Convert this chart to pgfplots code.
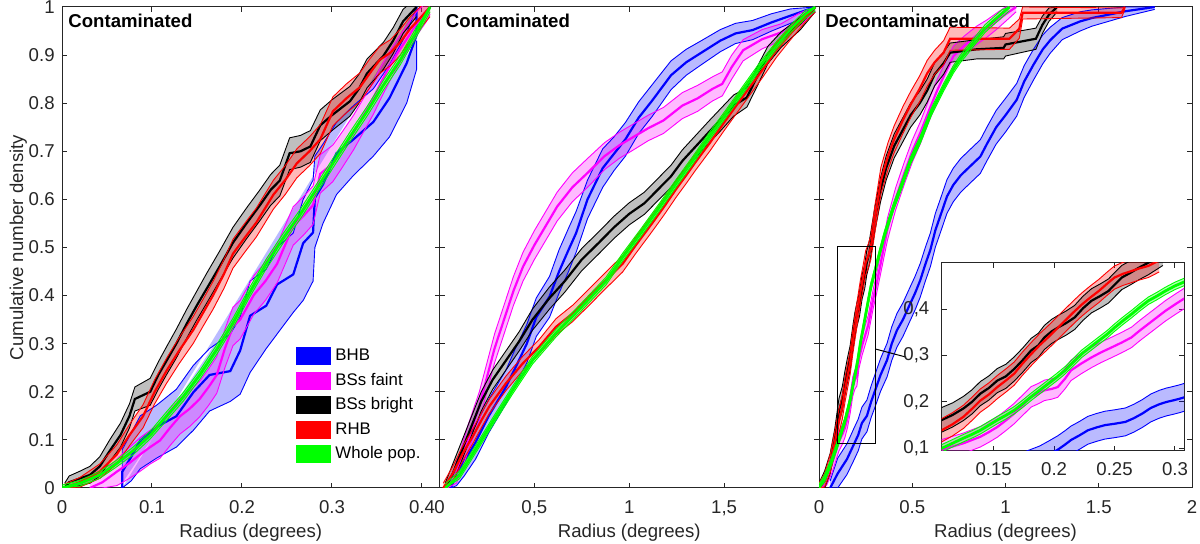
\documentclass[border=0pt]{standalone}
\usepackage{fontspec}
\setmainfont{Liberation Sans}
\usepackage{pgfplots}
\pgfplotsset{compat=1.18}
\usepackage{pgfplotstable}
\usepgfplotslibrary{fillbetween}
\newcommand{\F}{\fontsize{9.3}{11}\selectfont}
\newcommand{\FL}{\fontsize{8.4}{10}\selectfont}
\definecolor{mblue}{RGB}{0,0,255}
\definecolor{mmag}{RGB}{255,0,255}
\definecolor{mred}{RGB}{255,0,0}
\definecolor{mgreen}{RGB}{0,255,0}
\definecolor{mblack}{RGB}{0,0,0}

% ---------------- Panel 1 (contaminated, 0-0.42) ----------------
\pgfplotstableread{
x y lo hi
0.067 0.000 0.000 0.010
0.067 0.034 0.000 0.080
0.077 0.065 0.015 0.115
0.087 0.099 0.040 0.150
0.105 0.127 0.062 0.172
0.127 0.149 0.085 0.205
0.146 0.199 0.120 0.255
0.164 0.235 0.160 0.290
0.187 0.243 0.180 0.320
0.198 0.286 0.195 0.355
0.209 0.358 0.240 0.430
0.227 0.379 0.290 0.455
0.239 0.423 0.320 0.500
0.257 0.444 0.365 0.530
0.268 0.509 0.390 0.600
0.279 0.531 0.430 0.640
0.281 0.603 0.500 0.690
0.290 0.631 0.550 0.715
0.305 0.696 0.610 0.760
0.324 0.725 0.650 0.795
0.346 0.761 0.690 0.830
0.364 0.811 0.730 0.880
0.383 0.883 0.800 0.945
0.394 0.941 0.870 1.000
0.394 1.000 0.930 1.000
}\pAbhb
\pgfplotstableread{
x y lo hi
0.031 0.000 0.000 0.010
0.045 0.012 0.000 0.030
0.061 0.034 0.005 0.060
0.075 0.052 0.020 0.085
0.087 0.070 0.035 0.105
0.098 0.085 0.050 0.120
0.109 0.099 0.062 0.135
0.120 0.125 0.088 0.162
0.131 0.149 0.112 0.186
0.142 0.165 0.128 0.202
0.153 0.185 0.148 0.222
0.163 0.210 0.172 0.248
0.172 0.235 0.197 0.273
0.181 0.290 0.250 0.330
0.190 0.336 0.296 0.376
0.198 0.350 0.310 0.390
0.213 0.401 0.361 0.441
0.226 0.430 0.390 0.470
0.239 0.466 0.426 0.506
0.257 0.545 0.505 0.585
0.268 0.565 0.525 0.605
0.279 0.588 0.548 0.628
0.287 0.653 0.613 0.693
0.301 0.675 0.637 0.713
0.312 0.705 0.668 0.742
0.324 0.739 0.703 0.775
0.335 0.775 0.740 0.810
0.346 0.811 0.777 0.845
0.355 0.845 0.812 0.878
0.364 0.876 0.845 0.907
0.373 0.905 0.876 0.934
0.383 0.933 0.906 0.960
0.394 0.965 0.940 0.990
0.405 0.991 0.970 1.010
0.409 1.000 0.985 1.015
}\pAfaint
\pgfplotstableread{
x y lo hi
0.003 0.000 0.000 0.010
0.008 0.012 0.000 0.025
0.020 0.020 0.005 0.035
0.031 0.027 0.010 0.045
0.042 0.045 0.025 0.065
0.053 0.077 0.055 0.100
0.065 0.110 0.085 0.135
0.075 0.150 0.125 0.175
0.081 0.185 0.160 0.210
0.098 0.200 0.172 0.228
0.107 0.235 0.205 0.262
0.116 0.264 0.235 0.293
0.127 0.300 0.270 0.330
0.139 0.343 0.313 0.373
0.150 0.380 0.350 0.410
0.161 0.415 0.385 0.447
0.175 0.460 0.430 0.492
0.190 0.510 0.478 0.542
0.205 0.550 0.518 0.582
0.220 0.588 0.556 0.620
0.232 0.620 0.588 0.652
0.242 0.639 0.607 0.671
0.253 0.696 0.662 0.728
0.265 0.700 0.667 0.733
0.276 0.710 0.677 0.743
0.287 0.754 0.722 0.786
0.300 0.775 0.743 0.807
0.320 0.804 0.773 0.835
0.330 0.830 0.800 0.860
0.339 0.862 0.832 0.892
0.357 0.898 0.870 0.926
0.368 0.930 0.903 0.957
0.379 0.970 0.945 0.995
0.394 1.000 0.980 1.020
}\pAbright
\pgfplotstableread{
x y lo hi
0.003 0.000 0.000 0.008
0.020 0.012 0.002 0.022
0.042 0.034 0.020 0.050
0.061 0.070 0.050 0.090
0.075 0.110 0.088 0.132
0.090 0.149 0.125 0.173
0.103 0.200 0.175 0.225
0.116 0.243 0.217 0.269
0.130 0.285 0.258 0.312
0.146 0.329 0.301 0.357
0.157 0.365 0.337 0.393
0.168 0.401 0.372 0.430
0.180 0.445 0.415 0.475
0.190 0.487 0.457 0.517
0.203 0.520 0.490 0.550
0.216 0.552 0.522 0.582
0.235 0.610 0.580 0.640
0.248 0.640 0.610 0.670
0.261 0.675 0.645 0.705
0.275 0.700 0.670 0.730
0.287 0.725 0.695 0.755
0.301 0.783 0.753 0.813
0.316 0.810 0.780 0.840
0.331 0.833 0.803 0.863
0.342 0.862 0.832 0.892
0.353 0.890 0.862 0.918
0.365 0.905 0.878 0.932
0.376 0.927 0.900 0.954
0.387 0.955 0.930 0.980
0.398 0.977 0.955 1.000
0.409 1.000 0.980 1.020
}\pArhb
\pgfplotstableread{
x y lo hi
0.000 0.000 0.000 0.006
0.020 0.010 0.004 0.016
0.042 0.027 0.020 0.034
0.060 0.050 0.043 0.057
0.079 0.077 0.069 0.085
0.098 0.110 0.102 0.118
0.116 0.149 0.140 0.158
0.135 0.190 0.181 0.199
0.153 0.235 0.226 0.244
0.172 0.288 0.278 0.298
0.190 0.343 0.333 0.353
0.208 0.405 0.395 0.415
0.227 0.466 0.456 0.476
0.245 0.517 0.507 0.527
0.264 0.567 0.557 0.577
0.283 0.622 0.612 0.632
0.301 0.675 0.665 0.685
0.320 0.730 0.720 0.740
0.339 0.783 0.773 0.793
0.357 0.837 0.827 0.847
0.376 0.890 0.880 0.900
0.393 0.945 0.935 0.955
0.409 1.000 0.990 1.000
}\pAwhole

% ---------------- Panel 2 (contaminated, 0-2) ----------------
\pgfplotstableread{
x y lo hi
0.060 0.000 0.000 0.010
0.090 0.030 0.005 0.055
0.130 0.055 0.025 0.090
0.190 0.095 0.060 0.130
0.260 0.150 0.115 0.185
0.350 0.210 0.175 0.245
0.400 0.250 0.215 0.290
0.460 0.300 0.260 0.340
0.510 0.355 0.315 0.395
0.580 0.398 0.355 0.440
0.630 0.450 0.405 0.495
0.680 0.495 0.450 0.540
0.720 0.530 0.490 0.575
0.780 0.600 0.560 0.640
0.860 0.665 0.625 0.705
0.920 0.695 0.660 0.730
0.980 0.725 0.690 0.760
1.050 0.770 0.737 0.803
1.120 0.805 0.772 0.838
1.220 0.858 0.828 0.888
1.300 0.885 0.858 0.912
1.380 0.905 0.880 0.930
1.480 0.930 0.907 0.953
1.560 0.945 0.924 0.966
1.650 0.952 0.932 0.972
1.750 0.968 0.950 0.986
1.850 0.982 0.966 0.996
1.980 1.000 0.990 1.000
}\pBbhb
\pgfplotstableread{
x y lo hi
0.040 0.000 0.000 0.010
0.090 0.030 0.010 0.050
0.150 0.100 0.075 0.130
0.210 0.170 0.140 0.200
0.250 0.230 0.200 0.260
0.290 0.290 0.260 0.320
0.340 0.350 0.320 0.380
0.390 0.410 0.380 0.440
0.440 0.460 0.430 0.490
0.500 0.505 0.475 0.535
0.560 0.545 0.515 0.575
0.620 0.585 0.555 0.615
0.700 0.625 0.595 0.655
0.780 0.655 0.625 0.685
0.870 0.690 0.662 0.718
0.950 0.713 0.686 0.740
1.010 0.727 0.700 0.754
1.100 0.748 0.722 0.775
1.180 0.764 0.737 0.791
1.280 0.795 0.768 0.822
1.360 0.810 0.783 0.837
1.440 0.830 0.805 0.855
1.490 0.840 0.815 0.865
1.540 0.875 0.850 0.900
1.600 0.910 0.888 0.932
1.700 0.933 0.913 0.953
1.800 0.947 0.930 0.965
1.900 0.975 0.962 0.988
1.980 1.000 0.990 1.000
}\pBfaint
\pgfplotstableread{
x y lo hi
0.030 0.000 0.000 0.010
0.070 0.030 0.010 0.050
0.110 0.070 0.050 0.090
0.160 0.120 0.100 0.140
0.220 0.180 0.160 0.200
0.280 0.225 0.205 0.245
0.350 0.265 0.245 0.285
0.420 0.305 0.285 0.325
0.490 0.350 0.328 0.372
0.580 0.395 0.372 0.418
0.660 0.430 0.407 0.453
0.750 0.475 0.452 0.498
0.840 0.510 0.487 0.533
0.920 0.542 0.519 0.565
1.000 0.570 0.547 0.593
1.080 0.592 0.569 0.615
1.150 0.620 0.597 0.643
1.220 0.648 0.625 0.671
1.280 0.680 0.657 0.703
1.350 0.710 0.687 0.733
1.420 0.740 0.717 0.763
1.480 0.765 0.742 0.788
1.550 0.795 0.773 0.817
1.620 0.812 0.792 0.832
1.680 0.860 0.840 0.880
1.730 0.900 0.882 0.918
1.800 0.932 0.916 0.948
1.900 0.965 0.952 0.978
1.980 1.000 0.990 1.000
}\pBbright
\pgfplotstableread{
x y lo hi
0.020 0.000 0.000 0.010
0.070 0.030 0.015 0.045
0.120 0.070 0.055 0.085
0.175 0.107 0.092 0.122
0.220 0.140 0.125 0.155
0.263 0.170 0.155 0.185
0.351 0.218 0.203 0.233
0.439 0.259 0.244 0.274
0.526 0.294 0.279 0.309
0.614 0.335 0.318 0.352
0.702 0.363 0.346 0.380
0.789 0.397 0.380 0.414
0.877 0.432 0.415 0.449
0.965 0.466 0.449 0.483
1.035 0.505 0.488 0.522
1.120 0.550 0.533 0.567
1.184 0.585 0.568 0.602
1.248 0.622 0.605 0.639
1.300 0.650 0.633 0.667
1.350 0.678 0.661 0.695
1.424 0.717 0.700 0.734
1.500 0.760 0.743 0.777
1.599 0.814 0.797 0.831
1.700 0.868 0.852 0.884
1.775 0.910 0.895 0.925
1.850 0.945 0.932 0.958
1.920 0.975 0.965 0.985
1.980 1.000 0.990 1.000
}\pBrhb
\pgfplotstableread{
x y lo hi
0.030 0.000 0.000 0.008
0.105 0.027 0.019 0.035
0.210 0.093 0.085 0.101
0.298 0.149 0.141 0.157
0.386 0.204 0.196 0.212
0.491 0.266 0.258 0.274
0.614 0.322 0.314 0.330
0.737 0.372 0.364 0.380
0.877 0.430 0.422 0.438
0.967 0.481 0.473 0.489
1.060 0.530 0.522 0.538
1.161 0.585 0.577 0.593
1.250 0.635 0.627 0.643
1.336 0.682 0.674 0.690
1.420 0.730 0.722 0.738
1.511 0.779 0.771 0.787
1.600 0.828 0.820 0.836
1.687 0.876 0.868 0.884
1.780 0.922 0.914 0.930
1.862 0.959 0.951 0.967
1.930 0.985 0.977 0.993
1.980 1.000 0.992 1.000
}\pBwhole

% ---------------- Panel 3 (decontaminated, 0-2) ----------------
\pgfplotstableread{
x y lo hi
0.060 0.000 0.000 0.015
0.100 0.030 0.000 0.062
0.150 0.060 0.028 0.092
0.186 0.090 0.057 0.123
0.210 0.110 0.077 0.143
0.230 0.135 0.102 0.168
0.257 0.150 0.117 0.183
0.280 0.180 0.147 0.213
0.302 0.204 0.170 0.238
0.330 0.235 0.201 0.269
0.365 0.266 0.231 0.301
0.390 0.300 0.265 0.335
0.418 0.328 0.293 0.363
0.450 0.350 0.315 0.385
0.490 0.384 0.349 0.419
0.515 0.405 0.370 0.440
0.543 0.432 0.397 0.467
0.570 0.465 0.430 0.500
0.597 0.495 0.460 0.530
0.624 0.536 0.501 0.571
0.650 0.565 0.530 0.600
0.686 0.606 0.571 0.641
0.720 0.630 0.595 0.665
0.760 0.650 0.615 0.685
0.800 0.665 0.630 0.700
0.865 0.689 0.654 0.724
0.900 0.715 0.680 0.750
0.950 0.750 0.715 0.785
1.000 0.775 0.740 0.810
1.060 0.807 0.773 0.841
1.100 0.845 0.812 0.878
1.150 0.880 0.848 0.912
1.200 0.912 0.882 0.942
1.240 0.931 0.904 0.958
1.304 0.955 0.932 0.978
1.400 0.970 0.950 0.990
1.463 0.977 0.960 0.994
1.640 0.991 0.980 1.000
1.800 1.000 0.995 1.000
}\pCbhb
\pgfplotstableread{
x y lo hi
0.010 0.000 0.000 0.010
0.040 0.020 0.005 0.035
0.070 0.050 0.032 0.068
0.107 0.097 0.077 0.117
0.125 0.111 0.091 0.131
0.139 0.125 0.105 0.145
0.153 0.146 0.126 0.166
0.167 0.175 0.155 0.195
0.181 0.211 0.191 0.231
0.192 0.225 0.205 0.245
0.203 0.232 0.212 0.252
0.214 0.268 0.248 0.288
0.231 0.296 0.276 0.316
0.248 0.318 0.298 0.338
0.264 0.339 0.319 0.359
0.278 0.368 0.348 0.388
0.292 0.396 0.376 0.416
0.309 0.425 0.405 0.445
0.367 0.538 0.515 0.561
0.410 0.600 0.577 0.623
0.456 0.653 0.630 0.676
0.500 0.700 0.677 0.723
0.544 0.739 0.716 0.762
0.590 0.785 0.762 0.808
0.633 0.826 0.803 0.849
0.680 0.865 0.843 0.887
0.721 0.898 0.877 0.919
0.780 0.920 0.900 0.940
0.845 0.941 0.922 0.960
0.900 0.955 0.937 0.973
0.951 0.970 0.953 0.987
1.000 0.985 0.970 1.000
1.057 1.000 0.990 1.000
}\pCfaint
\pgfplotstableread{
x y lo hi
0.000 0.000 0.000 0.010
0.030 0.015 0.000 0.035
0.060 0.050 0.030 0.072
0.085 0.100 0.078 0.124
0.107 0.161 0.136 0.186
0.125 0.186 0.161 0.211
0.139 0.218 0.193 0.243
0.153 0.246 0.221 0.271
0.167 0.271 0.246 0.296
0.181 0.311 0.286 0.336
0.192 0.339 0.314 0.364
0.203 0.360 0.335 0.385
0.217 0.382 0.357 0.407
0.231 0.418 0.393 0.443
0.245 0.439 0.414 0.464
0.256 0.468 0.443 0.493
0.270 0.489 0.464 0.514
0.300 0.560 0.535 0.585
0.330 0.620 0.595 0.645
0.360 0.665 0.640 0.690
0.403 0.711 0.686 0.736
0.450 0.745 0.720 0.770
0.491 0.775 0.750 0.800
0.540 0.800 0.775 0.825
0.580 0.826 0.802 0.850
0.620 0.860 0.836 0.884
0.668 0.883 0.860 0.906
0.703 0.905 0.885 0.925
0.845 0.912 0.892 0.932
0.990 0.915 0.892 0.938
1.000 0.922 0.898 0.945
1.163 0.934 0.912 0.956
1.198 0.963 0.945 0.981
1.233 0.984 0.970 0.998
1.277 1.000 0.990 1.000
}\pCbright
\pgfplotstableread{
x y lo hi
0.000 0.000 0.000 0.010
0.030 0.015 0.002 0.030
0.060 0.050 0.032 0.070
0.085 0.095 0.073 0.118
0.107 0.139 0.114 0.164
0.125 0.168 0.143 0.193
0.139 0.203 0.178 0.228
0.153 0.232 0.207 0.257
0.167 0.261 0.236 0.286
0.181 0.303 0.278 0.328
0.195 0.339 0.314 0.364
0.209 0.375 0.350 0.400
0.223 0.410 0.385 0.435
0.237 0.439 0.414 0.464
0.250 0.468 0.443 0.493
0.264 0.482 0.457 0.507
0.278 0.500 0.475 0.525
0.300 0.560 0.532 0.588
0.332 0.639 0.611 0.667
0.370 0.690 0.662 0.718
0.403 0.725 0.697 0.753
0.450 0.765 0.737 0.793
0.491 0.797 0.770 0.824
0.540 0.830 0.803 0.857
0.580 0.862 0.835 0.889
0.620 0.885 0.860 0.910
0.668 0.905 0.880 0.930
0.703 0.934 0.910 0.958
1.021 0.934 0.912 0.956
1.074 0.955 0.935 0.975
1.092 0.988 0.975 1.000
1.622 0.988 0.978 0.998
1.640 1.000 0.995 1.000
}\pCrhb
\pgfplotstableread{
x y lo hi
0.000 0.000 0.000 0.008
0.030 0.020 0.012 0.028
0.067 0.055 0.047 0.063
0.107 0.100 0.092 0.108
0.125 0.122 0.114 0.130
0.139 0.139 0.131 0.147
0.153 0.161 0.153 0.169
0.167 0.182 0.174 0.190
0.181 0.211 0.203 0.219
0.195 0.239 0.231 0.247
0.209 0.268 0.260 0.276
0.223 0.304 0.296 0.312
0.237 0.332 0.324 0.340
0.250 0.360 0.352 0.368
0.264 0.389 0.381 0.397
0.278 0.418 0.410 0.426
0.292 0.439 0.431 0.447
0.309 0.465 0.457 0.473
0.350 0.525 0.517 0.533
0.400 0.585 0.577 0.593
0.438 0.624 0.616 0.632
0.490 0.680 0.672 0.688
0.544 0.725 0.717 0.733
0.600 0.780 0.772 0.788
0.668 0.833 0.825 0.841
0.720 0.870 0.862 0.878
0.756 0.891 0.883 0.899
0.800 0.912 0.904 0.920
0.845 0.934 0.926 0.942
0.890 0.955 0.947 0.963
0.933 0.970 0.962 0.978
0.980 0.986 0.978 0.994
1.021 1.000 0.992 1.000
}\pCwhole

% ---------------- Inset (zoom of panel 3) ----------------
\pgfplotstableread{
x y lo hi
0.160 0.050 0.020 0.080
0.175 0.062 0.032 0.092
0.188 0.075 0.045 0.105
0.195 0.085 0.055 0.115
0.203 0.097 0.067 0.127
0.209 0.108 0.078 0.138
0.214 0.118 0.088 0.148
0.221 0.128 0.098 0.158
0.228 0.139 0.109 0.169
0.235 0.145 0.115 0.175
0.242 0.150 0.120 0.180
0.250 0.153 0.123 0.183
0.259 0.157 0.127 0.187
0.266 0.165 0.135 0.195
0.273 0.175 0.145 0.205
0.280 0.187 0.157 0.217
0.287 0.195 0.165 0.225
0.293 0.200 0.170 0.230
0.298 0.203 0.173 0.233
0.304 0.207 0.177 0.237
0.309 0.211 0.181 0.241
}\pDbhb
\pgfplotstableread{
x y lo hi
0.100 0.090 0.068 0.112
0.107 0.097 0.075 0.119
0.116 0.104 0.082 0.126
0.125 0.111 0.089 0.133
0.132 0.118 0.096 0.140
0.139 0.125 0.103 0.147
0.146 0.135 0.113 0.157
0.153 0.146 0.124 0.168
0.160 0.160 0.138 0.182
0.167 0.175 0.153 0.197
0.174 0.193 0.171 0.215
0.181 0.211 0.189 0.233
0.187 0.218 0.196 0.240
0.192 0.225 0.203 0.247
0.198 0.228 0.206 0.250
0.203 0.232 0.210 0.254
0.209 0.250 0.228 0.272
0.214 0.268 0.246 0.290
0.222 0.282 0.260 0.304
0.231 0.296 0.274 0.318
0.239 0.307 0.285 0.329
0.248 0.318 0.296 0.340
0.256 0.328 0.306 0.350
0.264 0.339 0.317 0.361
0.271 0.354 0.332 0.376
0.278 0.368 0.346 0.390
0.285 0.382 0.360 0.404
0.292 0.396 0.374 0.418
0.300 0.410 0.388 0.432
0.309 0.425 0.403 0.447
}\pDfaint
\pgfplotstableread{
x y lo hi
0.100 0.150 0.125 0.178
0.107 0.161 0.135 0.188
0.116 0.172 0.146 0.198
0.125 0.186 0.160 0.212
0.132 0.200 0.174 0.226
0.139 0.218 0.192 0.244
0.146 0.230 0.204 0.256
0.153 0.246 0.220 0.272
0.160 0.255 0.229 0.281
0.167 0.271 0.245 0.297
0.174 0.290 0.264 0.316
0.181 0.311 0.285 0.337
0.187 0.322 0.296 0.348
0.192 0.339 0.313 0.365
0.198 0.352 0.326 0.378
0.203 0.360 0.334 0.386
0.210 0.370 0.344 0.396
0.217 0.382 0.356 0.408
0.224 0.402 0.376 0.428
0.231 0.418 0.392 0.444
0.238 0.428 0.402 0.454
0.245 0.439 0.413 0.465
0.251 0.455 0.429 0.481
0.256 0.468 0.442 0.494
0.263 0.478 0.452 0.504
0.270 0.489 0.463 0.515
0.278 0.500 0.474 0.526
0.290 0.520 0.494 0.546
}\pDbright
\pgfplotstableread{
x y lo hi
0.100 0.128 0.103 0.153
0.107 0.139 0.114 0.164
0.116 0.152 0.127 0.177
0.125 0.168 0.143 0.193
0.132 0.185 0.160 0.210
0.139 0.203 0.178 0.228
0.146 0.216 0.191 0.241
0.153 0.232 0.207 0.257
0.160 0.246 0.221 0.271
0.167 0.261 0.236 0.286
0.174 0.283 0.258 0.308
0.181 0.303 0.278 0.328
0.188 0.322 0.297 0.347
0.195 0.339 0.314 0.364
0.202 0.357 0.332 0.382
0.209 0.375 0.350 0.400
0.216 0.393 0.368 0.418
0.223 0.410 0.385 0.435
0.230 0.425 0.400 0.450
0.237 0.439 0.414 0.464
0.244 0.455 0.430 0.480
0.250 0.468 0.443 0.493
0.257 0.476 0.451 0.501
0.264 0.482 0.457 0.507
0.271 0.488 0.463 0.513
0.278 0.493 0.468 0.518
0.287 0.505 0.480 0.530
}\pDrhb
\pgfplotstableread{
x y lo hi
0.100 0.088 0.080 0.096
0.107 0.100 0.092 0.108
0.116 0.111 0.103 0.119
0.125 0.122 0.114 0.130
0.132 0.130 0.122 0.138
0.139 0.139 0.131 0.147
0.146 0.150 0.142 0.158
0.153 0.161 0.153 0.169
0.160 0.171 0.163 0.179
0.167 0.182 0.174 0.190
0.174 0.196 0.188 0.204
0.181 0.211 0.203 0.219
0.188 0.225 0.217 0.233
0.195 0.239 0.231 0.247
0.202 0.253 0.245 0.261
0.209 0.268 0.260 0.276
0.216 0.286 0.278 0.294
0.223 0.304 0.296 0.312
0.230 0.318 0.310 0.326
0.237 0.332 0.324 0.340
0.244 0.346 0.338 0.354
0.250 0.360 0.352 0.368
0.257 0.375 0.367 0.383
0.264 0.389 0.381 0.397
0.271 0.404 0.396 0.412
0.278 0.418 0.410 0.426
0.285 0.428 0.420 0.436
0.292 0.439 0.431 0.447
0.300 0.450 0.442 0.458
0.309 0.460 0.452 0.468
}\pDwhole

% band: #1 table, #2 colour, #3 fill opacity, #4 unique id, #5 line width
\newcommand{\band}[5]{%
  \addplot[draw=#2, line width=0.45pt, name path=L#4, forget plot] table[x=x,y=lo]{#1};
  \addplot[draw=#2, line width=0.45pt, name path=H#4, forget plot] table[x=x,y=hi]{#1};
  \addplot[fill=#2, fill opacity=#3, draw=none, forget plot] fill between[of=L#4 and H#4];
  \addplot[draw=#2, line width=#5, forget plot] table[x=x,y=y]{#1};
}
\newcommand{\allbands}[6]{%
  \band{#1}{mblue}{0.27}{#6a}{1.1pt}
  \band{#2}{mmag}{0.27}{#6b}{1.1pt}
  \band{#3}{mblack}{0.25}{#6c}{1.1pt}
  \band{#4}{mred}{0.28}{#6d}{1.1pt}
  \band{#5}{mgreen}{0.3}{#6e}{1.4pt}
}

\pgfplotsset{
  panel/.style={
    scale only axis,
    ymin=0, ymax=1,
    height=240.5pt,
    axis line style={line width=0.5pt, black!85},
    major tick style={line width=0.5pt, black!85},
    major tick length=2.5pt,
    tick align=inside,
    ytick={0,0.1,0.2,0.3,0.4,0.5,0.6,0.7,0.8,0.9,1},
    yticklabels={},
    tick label style={font=\F, text=black!85},
    label style={font=\F, text=black!85},
    xticklabel style={anchor=base, yshift=-12.65pt},
    yticklabel style={anchor=east, inner sep=0pt, xshift=-3.5pt},
    xlabel={Radius (degrees)},
    xlabel style={at={(axis description cs:0.5,-0.1019)}, anchor=base},
  },
}

\begin{document}
\begin{tikzpicture}

% ---- panel 1 ----
\begin{axis}[panel, at={(31pt,28pt)}, anchor=south west, width=188.75pt,
  xmin=0, xmax=0.4195,
  xtick={0,0.1,0.2,0.3,0.4}, xticklabels={0,0.1,0.2,0.3,0.4},
  yticklabels={0,0.1,0.2,0.3,0.4,0.5,0.6,0.7,0.8,0.9,1},
  ylabel={Cumulative number density},
  ylabel style={at={(axis description cs:-0.116,0.5)}, anchor=center},
  legend style={at={(axis description cs:0.619,0.2925)}, anchor=north west, draw=none, fill=none,
    inner sep=0pt, outer sep=0pt, font=\FL, row sep=3.25pt,
    nodes={inner sep=0.5pt, text height=6.2pt, text depth=1.8pt},
    /tikz/every odd column/.append style={column sep=1.7pt}},
  legend cell align=left,
]
\allbands{\pAbhb}{\pAfaint}{\pAbright}{\pArhb}{\pAwhole}{A}
\addlegendimage{legend image code/.code={\fill[mblue] (0pt,-4.25pt) rectangle (17.3pt,4.25pt);}}
\addlegendentry{BHB}
\addlegendimage{legend image code/.code={\fill[mmag] (0pt,-4.25pt) rectangle (17.3pt,4.25pt);}}
\addlegendentry{BSs faint}
\addlegendimage{legend image code/.code={\fill[mblack] (0pt,-4.25pt) rectangle (17.3pt,4.25pt);}}
\addlegendentry{BSs bright}
\addlegendimage{legend image code/.code={\fill[mred] (0pt,-4.25pt) rectangle (17.3pt,4.25pt);}}
\addlegendentry{RHB}
\addlegendimage{legend image code/.code={\fill[mgreen] (0pt,-4.25pt) rectangle (17.3pt,4.25pt);}}
\addlegendentry{Whole pop.}
\node[anchor=north west, inner sep=0pt, xshift=3pt, yshift=-3.5pt, font=\F\bfseries] at (rel axis cs:0,1) {Contaminated};
\end{axis}

% ---- panel 2 ----
\begin{axis}[panel, at={(219.75pt,28pt)}, anchor=south west, width=189.75pt,
  xmin=0, xmax=2,
  xtick={0,0.5,1,1.5,2}, xticklabels={0,{0,5},1,{1,5},{}},
]
\allbands{\pBbhb}{\pBfaint}{\pBbright}{\pBrhb}{\pBwhole}{B}
\node[anchor=north west, inner sep=0pt, xshift=3pt, yshift=-3.5pt, font=\F\bfseries] at (rel axis cs:0,1) {Contaminated};
\end{axis}

% ---- panel 3 ----
\begin{axis}[panel, at={(409.5pt,28pt)}, anchor=south west, width=186.5pt,
  xmin=0, xmax=2,
  xtick={0,0.5,1,1.5,2}, xticklabels={0,0.5,1,1.5,2},
]
\allbands{\pCbhb}{\pCfaint}{\pCbright}{\pCrhb}{\pCwhole}{C}
\draw[black, line width=0.5pt] (axis cs:0.100,0.093) rectangle (axis cs:0.302,0.503);
\draw[black, line width=0.5pt] (axis cs:0.302,0.289) -- (axis cs:0.468,0.272);
\node[anchor=north west, inner sep=0pt, xshift=3pt, yshift=-3.5pt, font=\F\bfseries] at (rel axis cs:0,1) {Decontaminated};
\end{axis}

% ---- inset ----
\begin{axis}[panel, at={(470.85pt,46.65pt)}, anchor=south west, width=121.15pt, height=94pt,
  axis background/.style={fill=white},
  xmin=0.107, xmax=0.3075, ymin=0.095, ymax=0.5,
  xtick={0.15,0.2,0.25,0.3}, xticklabels={0.15,0.2,0.25,0.3},
  ytick={0.1,0.2,0.3,0.4}, yticklabels={{0,1},{0,2},{0,3},{0,4}},
  yticklabel style={anchor=east, inner sep=0pt, xshift=-2.5pt},
  xlabel={},
]
\allbands{\pDbhb}{\pDfaint}{\pDbright}{\pDrhb}{\pDwhole}{D}
\end{axis}

\pgfresetboundingbox
\useasboundingbox (0,0) rectangle (600pt,272pt);
\end{tikzpicture}
\end{document}
